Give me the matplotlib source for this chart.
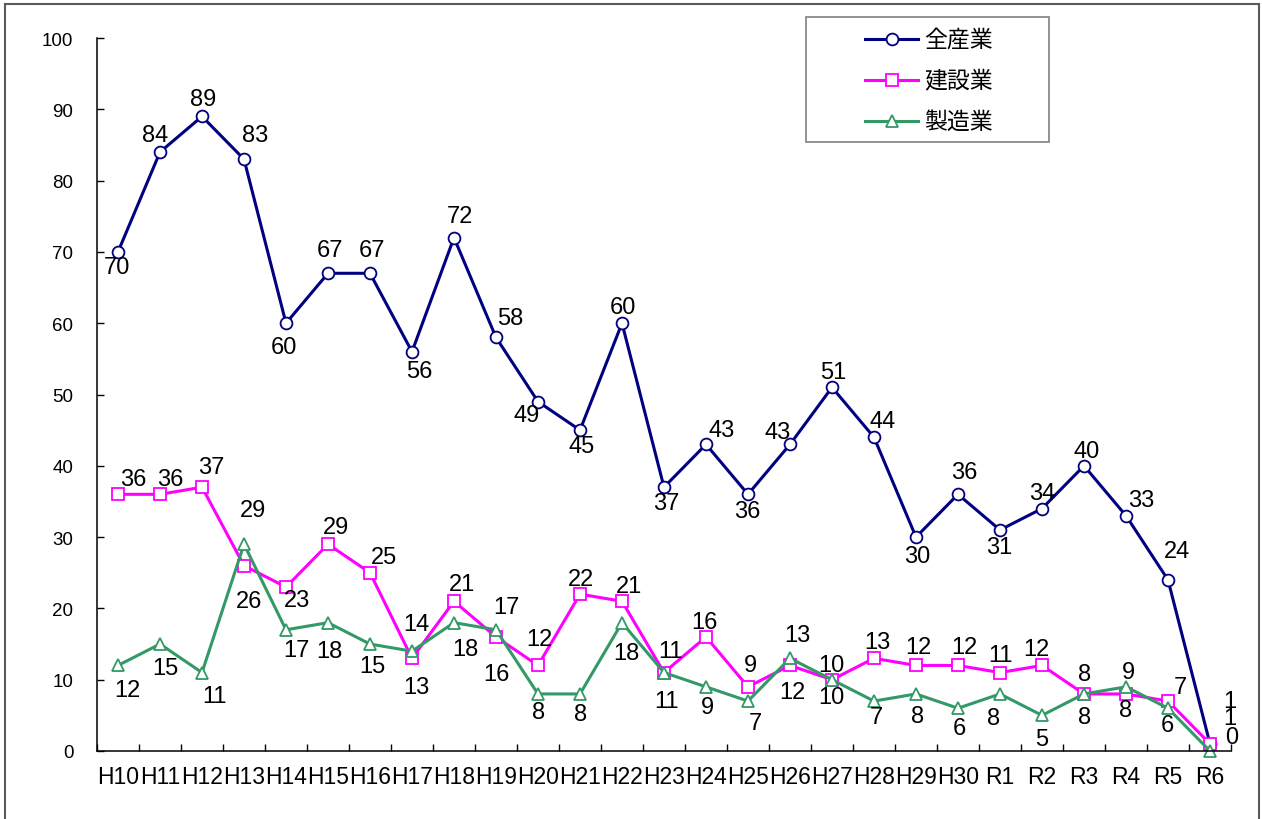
"""Recreate line chart of three industry series (H10-R6)."""
import matplotlib.pyplot as plt
import matplotlib.patches as patches
from matplotlib.lines import Line2D

plt.rcParams['font.family'] = ['Liberation Sans', 'Noto Sans CJK JP', 'DejaVu Sans']

years = ['H10', 'H11', 'H12', 'H13', 'H14', 'H15', 'H16', 'H17', 'H18', 'H19',
         'H20', 'H21', 'H22', 'H23', 'H24', 'H25', 'H26', 'H27', 'H28', 'H29',
         'H30', 'R1', 'R2', 'R3', 'R4', 'R5', 'R6']
all_ind = [70, 84, 89, 83, 60, 67, 67, 56, 72, 58, 49, 45, 60, 37, 43, 36, 43,
           51, 44, 30, 36, 31, 34, 40, 33, 24, 1]
construction = [36, 36, 37, 26, 23, 29, 25, 13, 21, 16, 12, 22, 21, 11, 16, 9,
                12, 10, 13, 12, 12, 11, 12, 8, 8, 7, 1]
manufacturing = [12, 15, 11, 29, 17, 18, 15, 14, 18, 17, 8, 8, 18, 11, 9, 7, 13,
                 10, 7, 8, 6, 8, 5, 8, 9, 6, 0]
names = ['全産業', '建設業', '製造業']

# label offsets in pixels (dx right, dy down) - layout only
off_all = [(-1, 15), (-5, -17), (1, -17), (11, -24), (-2, 24), (2, -23), (2, -23),
           (7, 19), (6, -22), (14, -19), (-11, 13), (2, 16), (1, -16), (2, 16),
           (16, -14), (-1, 17), (-12, -12), (1, -15), (9, -16), (1, 19), (6, -22),
           (-1, 17), (0, -16), (3, -15), (15, -16), (9, -29), (20, -43)]
off_con = [(15, -15), (10, -15), (9, -20), (5, 35), (11, 13), (8, -17), (14, -16),
           (4, 29), (8, -17), (0, 37), (1, -26), (1, -15), (7, -15), (7, -22),
           (-2, -15), (2, -22), (2, 27), (-1, -15), (3, -16), (2, -18), (6, -18),
           (0, -18), (-6, -16), (1, -20), (0, 16), (12, -14), (20, -26)]
off_man = [(9, 25), (5, 24), (12, 23), (9, -34), (10, 20), (1, 28), (2, 22),
           (4, -27), (11, 26), (10, -23), (1, 18), (1, 20), (4, 30), (3, 28),
           (1, 20), (7, 22), (7, -23), (-1, 17), (2, 16), (2, 22), (1, 20),
           (-6, 24), (0, 24), (1, 23), (2, -15), (-1, 17), (22, -14)]

styles = [
    dict(color='#000080', marker='o', ms=8.5),
    dict(color='#FF00FF', marker='s', ms=8.5),
    dict(color='#339966', marker='^', ms=9),
]

fig = plt.figure(figsize=(12.62, 8.2), dpi=100)
ax = fig.add_axes([97 / 1262, 1 - 752 / 820, 1134 / 1262, 713 / 820])

x = list(range(len(years)))
series = [all_ind, construction, manufacturing]
offsets = [off_all, off_con, off_man]
for vals, st in zip(series, styles):
    ax.plot(x, vals, color=st['color'], lw=2.2, marker=st['marker'],
            ms=st['ms'], mfc='white', mec=st['color'], mew=1.3, clip_on=False)

for vals, offs in zip(series, offsets):
    for xi, v, (dx, dy) in zip(x, vals, offs):
        ax.annotate(str(v), (xi, v), xytext=(dx, -dy), textcoords='offset pixels',
                    ha='center', va='center', fontsize=17, color='black',
                    annotation_clip=False)

ax.set_xlim(-0.5, len(years) - 0.5)
ax.set_ylim(0, 100)
ax.set_yticks(range(0, 101, 10))
ax.set_xticks(x)
ax.set_xticklabels(years)
ax.set_xticks([i - 0.5 for i in range(len(years) + 1)], minor=True)
ax.tick_params(axis='x', which='major', length=0, pad=10, labelsize=16.5)
ax.tick_params(axis='x', which='minor', direction='in', length=5, width=1)
ax.tick_params(axis='y', direction='in', length=5, width=1, pad=17, labelsize=13.5)
for s in ['top', 'right']:
    ax.spines[s].set_visible(False)
for s in ['left', 'bottom']:
    ax.spines[s].set_linewidth(1.1)

# legend box drawn by hand to match placement
W, H = 1262, 820
fig.patches.append(patches.Rectangle((806 / W, 1 - 143 / H), 243 / W, 125 / H,
                                     transform=fig.transFigure, fill=False,
                                     edgecolor='#808080', lw=1.2))
for i, (name, st) in enumerate(zip(names, styles)):
    yy = 1 - (40 + 41 * i) / H
    fig.lines.append(Line2D([865 / W, 918 / W], [yy, yy], transform=fig.transFigure,
                            color=st['color'], lw=2.2))
    fig.lines.append(Line2D([891.5 / W], [yy], transform=fig.transFigure,
                            marker=st['marker'], ms=st['ms'], mfc='white',
                            mec=st['color'], mew=1.3))
    fig.text(924 / W, yy, name, fontsize=16.5, va='center', ha='left',
             family=['Noto Sans CJK JP', 'DejaVu Sans'])

# outer chart border
fig.patches.append(patches.Rectangle((5 / W, -0.01), 1254 / W, 1 - 5 / H + 0.01,
                                     transform=fig.transFigure, fill=False,
                                     edgecolor='#595959', lw=1.5))

plt.savefig('out.png', dpi=100)
